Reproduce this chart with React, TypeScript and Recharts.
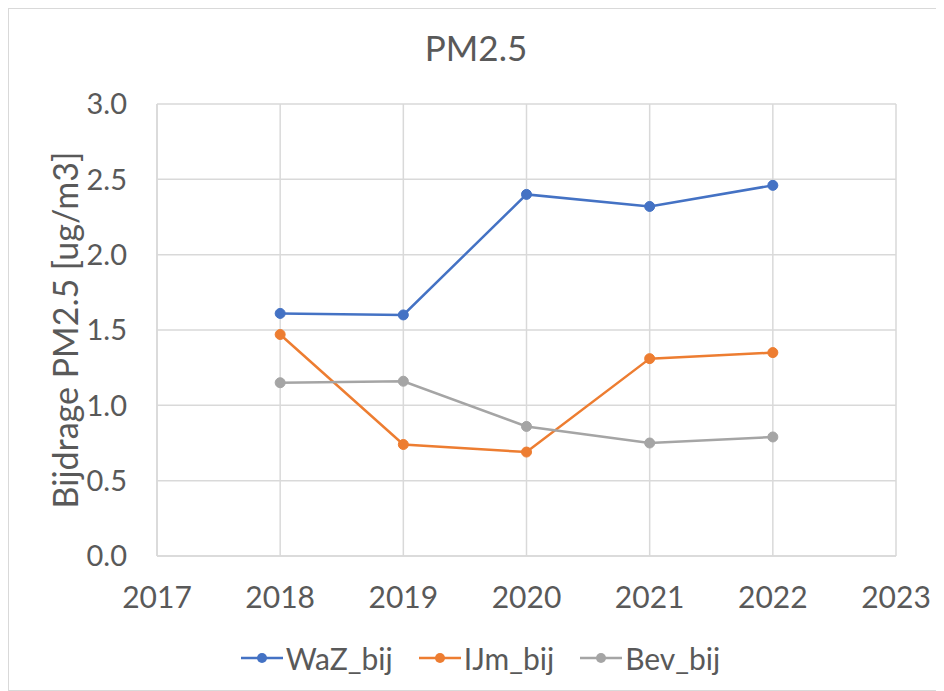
import React from 'react';
import { LineChart, Line, XAxis, YAxis, CartesianGrid, Legend } from 'recharts';

const years = [2018, 2019, 2020, 2021, 2022];
const wazBij = [1.61, 1.6, 2.4, 2.32, 2.46];
const ijmBij = [1.47, 0.74, 0.69, 1.31, 1.35];
const bevBij = [1.15, 1.16, 0.86, 0.75, 0.79];
const xTicks = [2017, 2018, 2019, 2020, 2021, 2022, 2023];
const yTicks = [0, 0.5, 1, 1.5, 2, 2.5, 3];

const data = years.map((year, i) => ({
    year,
    WaZ_bij: wazBij[i],
    IJm_bij: ijmBij[i],
    Bev_bij: bevBij[i],
}));

const series = [
    { key: 'WaZ_bij', color: '#4472C4' },
    { key: 'IJm_bij', color: '#ED7D31' },
    { key: 'Bev_bij', color: '#A5A5A5' },
];

const FONT = 'Lato, "Open Sans", sans-serif';
const TEXT = '#595959';
const GRID = '#d9d9d9';

const LegendContent = () => (
    <div style={{ height: 40, display: 'flex', justifyContent: 'center', alignItems: 'center', fontFamily: FONT, fontSize: 30, color: TEXT, paddingLeft: 56 }}>
        {series.map(s => (
            <div key={s.key} style={{ display: 'flex', alignItems: 'center', margin: '0 13px' }}>
                <svg width={42} height={14} style={{ marginRight: 3 }}>
                    <line x1={0} y1={7} x2={42} y2={7} stroke={s.color} strokeWidth={2.5} />
                    <circle cx={21} cy={7} r={5} fill={s.color} />
                </svg>
                <span>{s.key}</span>
            </div>
        ))}
    </div>
);

const YLabel = (props: any) => {
    const { viewBox } = props;
    const x = viewBox.x + 55;
    const y = viewBox.y + viewBox.height / 2;
    return (
        <text x={x} y={y} transform={`rotate(-90, ${x}, ${y})`} textAnchor="middle" dominantBaseline="central"
            fill={TEXT} fontSize={34} fontFamily={FONT}>
            Bijdrage PM2.5 [ug/m3]
        </text>
    );
};

export default function App() {
    return (
        <div style={{ position: 'relative', width: 934, height: 681, border: `1px solid ${GRID}`, background: '#fff' }}>
            <div style={{ position: 'absolute', left: 0, top: 18, width: '100%', textAlign: 'center', lineHeight: '40px', fontFamily: FONT, fontSize: 35, color: TEXT }}>
                PM2.5
            </div>
            <LineChart width={934} height={681} data={data} margin={{ top: 95, right: 47, left: 0, bottom: 12 }}>
                <CartesianGrid stroke={GRID} strokeWidth={1.5} />
                <XAxis
                    dataKey="year"
                    type="number"
                    domain={[2017, 2023]}
                    ticks={xTicks}
                    height={82}
                    tickLine={false}
                    tickSize={0}
                    tickMargin={31}
                    axisLine={{ stroke: GRID, strokeWidth: 1.5 }}
                    tick={{ fill: TEXT, fontSize: 30, fontFamily: FONT }}
                />
                <YAxis
                    type="number"
                    domain={[0, 3]}
                    ticks={yTicks}
                    width={148}
                    tickLine={false}
                    tickSize={0}
                    tickMargin={30}
                    axisLine={{ stroke: GRID, strokeWidth: 1.5 }}
                    tickFormatter={(v: number) => v.toFixed(1)}
                    tick={{ fill: TEXT, fontSize: 29, fontFamily: FONT }}
                    label={<YLabel />}
                />
                <Legend verticalAlign="bottom" content={<LegendContent />} />
                {series.map(s => (
                    <Line
                        key={s.key}
                        type="linear"
                        dataKey={s.key}
                        stroke={s.color}
                        strokeWidth={2.5}
                        dot={{ r: 5, fill: s.color, stroke: s.color, strokeWidth: 1 }}
                        activeDot={false}
                        isAnimationActive={false}
                    />
                ))}
            </LineChart>
        </div>
    );
}
